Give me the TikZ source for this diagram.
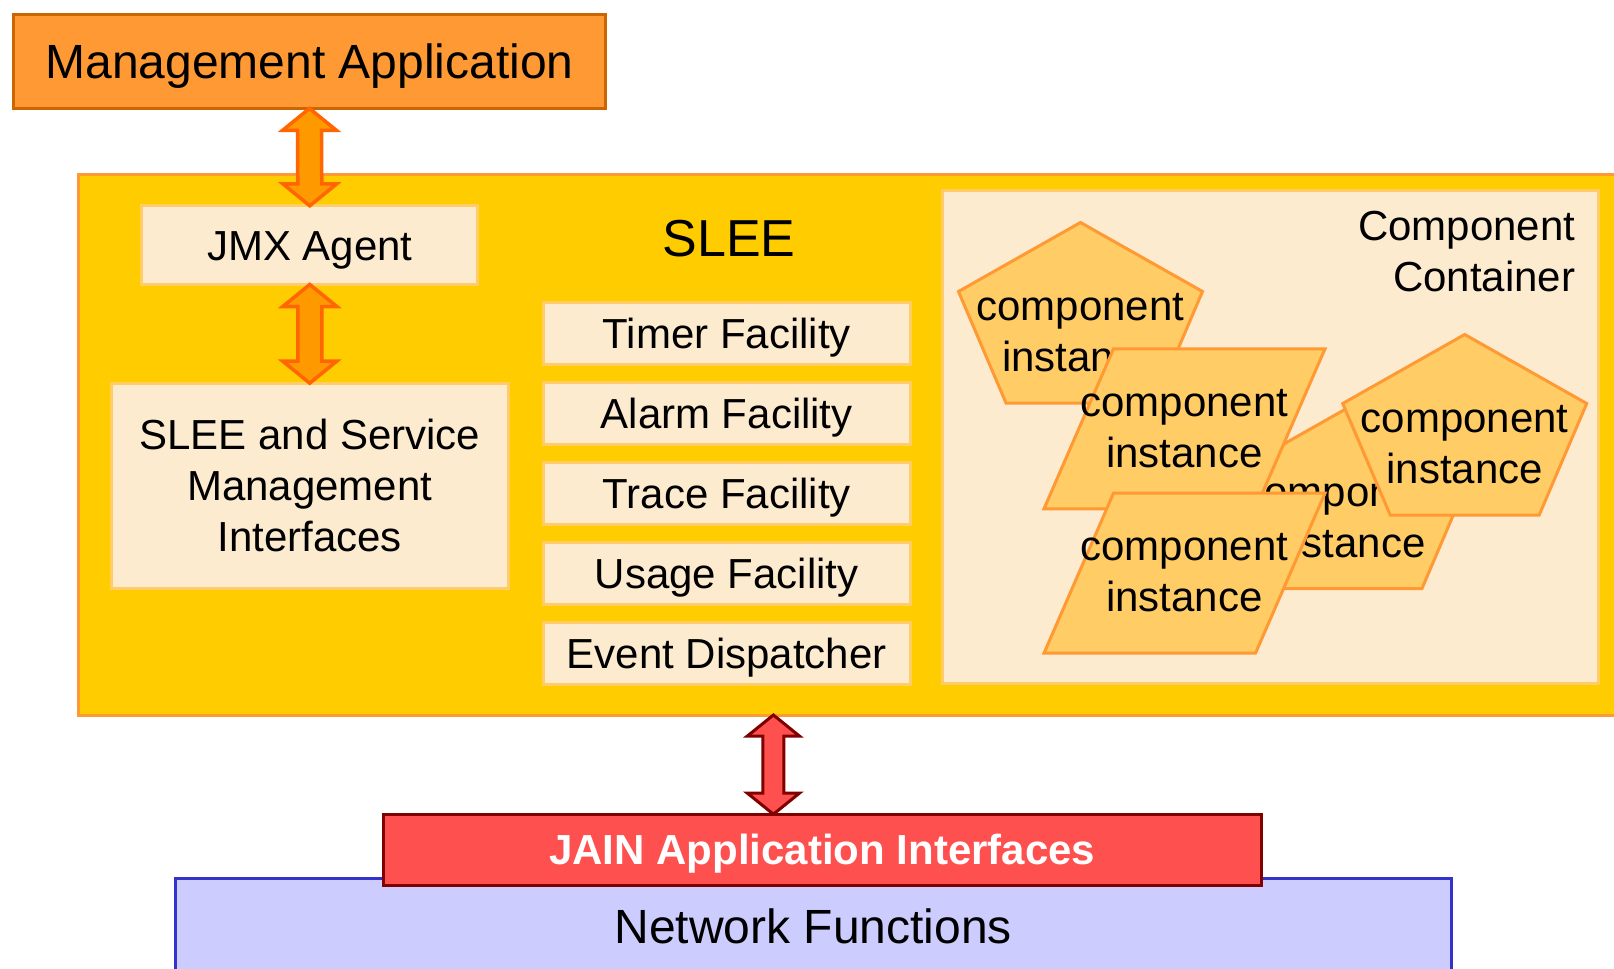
\documentclass[tikz,border=0pt]{standalone}
\usepackage{fontspec}
\setmainfont{Liberation Sans}
\usetikzlibrary{calc}

\definecolor{mgmtfill}{HTML}{FF9933}
\definecolor{mgmtline}{HTML}{CC6600}
\definecolor{sleefill}{HTML}{FFCC00}
\definecolor{sleeline}{HTML}{FF9933}
\definecolor{panefill}{HTML}{FCEBCE}
\definecolor{paneline}{HTML}{FFCC66}
\definecolor{instfill}{HTML}{FFCC66}
\definecolor{instline}{HTML}{FF9933}
\definecolor{arrowfill}{HTML}{FF9900}
\definecolor{arrowline}{HTML}{FF6600}
\definecolor{jainfill}{HTML}{FF5050}
\definecolor{jainline}{HTML}{800000}
\definecolor{netfill}{HTML}{CCCCFF}
\definecolor{netline}{HTML}{3333CC}

% block double arrow: style, top tip, bottom tip, half head width, head length, half shaft width
\newcommand\dualarrow[6]{%
  \draw[#1] (#2) -- ++(#4,#5) -- ++({#6-#4},0) -- ($(#3)+(#6,-#5)$) -- ++({#4-#6},0) -- (#3)
    -- ++(-#4,-#5) -- ++({#4-#6},0) -- ($(#2)+(-#6,#5)$) -- ++({#6-#4},0) -- cycle;}

% pentagon-shaped component instance, placed by its top vertex
% (the text node's base is the baseline of its last line)
\newcommand\pentinst[3]{%
  \begin{scope}[shift={(#2,#3)}]
    \draw[inst] (0,0) -- (122,69) -- (74.5,180.5) -- (-74.5,180.5) -- (-122,69) -- cycle;
    \node[insttext] (#1) at (0,149) {component\\instance};
  \end{scope}}

% parallelogram-shaped component instance, placed by its top-left corner
\newcommand\parainst[3]{%
  \begin{scope}[shift={(#2,#3)}]
    \draw[inst] (0,0) -- (211.5,0) -- (142,160) -- (-69.5,160) -- cycle;
    \node[insttext] (#1) at (71,118.5) {component\\instance};
  \end{scope}}

\begin{document}
\begin{tikzpicture}[x=0.5pt,y=-0.5pt,
  box/.style={rectangle, inner sep=0pt, outer sep=0pt, line width=1.5pt},
  pane/.style={box, fill=panefill, draw=paneline},
  txt21/.style={font=\fontsize{21}{25.5}\selectfont},
  cap21/.style={txt21, text height=15pt, text depth=0pt},
  facility/.style={pane, cap21, minimum width=183.5pt, minimum height=31pt},
  inst/.style={fill=instfill, draw=instline, line width=1.5pt, line join=miter},
  insttext/.style={txt21, align=center, inner sep=0pt, anchor=base},
  orangearrow/.style={fill=arrowfill, draw=arrowline, line width=1.75pt, line join=miter},
  redarrow/.style={fill=jainfill, draw=jainline, line width=1.5pt, line join=miter}
]
\useasboundingbox (0,0) rectangle (1614,969);
\fill[white] (0,0) rectangle (1614,969);
\clip (0,0) rectangle (1614,969);

% management application
\node[box, fill=mgmtfill, draw=mgmtline, minimum width=296pt, minimum height=47pt,
      font=\fontsize{24}{29}\selectfont, text height=17.2pt, text depth=0pt]
  (mgmt) at (309.5,61.4) {Management Application};

% SLEE container
\node[box, fill=sleefill, draw=sleeline, minimum width=781pt, minimum height=270.25pt]
  (slee) at (859,444.75) {};

% management side
\node[pane, cap21, minimum width=167.9pt, minimum height=39.35pt]
  (jmx) at (309.8,245.15) {JMX Agent};
\node[pane, txt21, align=center, minimum width=198.75pt, minimum height=102.65pt]
  (smi) at (309.75,485.85) {SLEE and Service\\Management\\Interfaces};

\dualarrow{orangearrow}{mgmt.south}{jmx.north}{27}{22}{12}
\dualarrow{orangearrow}{jmx.south}{smi.north}{27}{22}{12}

% SLEE title and facilities
\node[anchor=base, inner sep=0pt, font=\fontsize{26}{31}\selectfont] (title) at (729,256) {SLEE};
\node[facility] (timer) at (726.7,333.5) {Timer Facility};
\node[facility] (alarm) at (726.7,413.5) {Alarm Facility};
\node[facility] (trace) at (726.7,493.5) {Trace Facility};
\node[facility] (usage) at (726.7,573.5) {Usage Facility};
\node[facility] (event) at (726.7,653.5) {Event Dispatcher};

% component container
\node[pane, minimum width=327.9pt, minimum height=246.35pt] (cont) at (1270.3,437.15) {};
\node[txt21, align=right, inner sep=0pt, anchor=north east] (conttext) at (1575.7,211)
  {Component\\Container};

\pentinst{ci1}{1080.5}{222.5}
\pentinst{ci2}{1347.5}{408}
\parainst{ci3}{1113.5}{348.8}
\pentinst{ci4}{1464.7}{334.5}
\parainst{ci5}{1113.5}{493.2}

% network side
\node[box, fill=netfill, draw=netline, minimum width=638pt, minimum height=61pt]
  (net) at (813.3,939) {};
\node[anchor=base, inner sep=0pt, font=\fontsize{24}{29}\selectfont] (nettext) at (813.3,943)
  {Network Functions};

\node[box, fill=jainfill, draw=jainline, cap21, font=\fontsize{21}{25.5}\selectfont\bfseries,
      text=white, minimum width=439pt, minimum height=35.5pt]
  (jain) at (822.15,849.7) {JAIN Application Interfaces};

\coordinate (jx) at (773.4,0);
\coordinate (jtop) at (jx |- slee.south);
\coordinate (jbot) at (jx |- jain.north);
\dualarrow{redarrow}{jtop}{jbot}{26}{21}{10.5}
\end{tikzpicture}
\end{document}
